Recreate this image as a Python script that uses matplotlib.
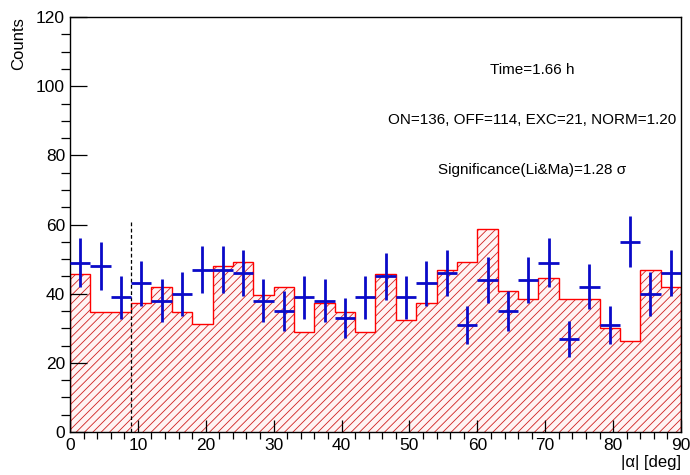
import numpy as np
import matplotlib
matplotlib.use("Agg")
import matplotlib.pyplot as plt
from matplotlib.ticker import MultipleLocator

plt.rcParams["font.family"] = ["Liberation Sans", "DejaVu Sans"]
plt.rcParams["hatch.linewidth"] = 0.6

# bin edges of |alpha| histogram (3 deg bins)
bin_edges = np.arange(0, 91, 3)

# normalized OFF histogram (red, hatched)
off_counts = [45.6, 34.8, 34.8, 37.2, 42.0, 34.8, 31.2, 48.0, 49.2, 39.6,
              42.0, 28.8, 37.2, 34.8, 28.8, 45.6, 32.4, 37.2, 46.8, 49.2,
              58.8, 40.8, 38.4, 44.4, 38.4, 38.4, 30.0, 26.4, 46.8, 42.0]

# ON counts (blue points)
on_counts = [49, 48, 39, 43, 38, 40, 47, 47, 46, 38,
             35, 39, 38, 33, 39, 45, 39, 43, 46, 31,
             44, 35, 44, 49, 27, 42, 31, 55, 40, 46]

alpha_cut = 9
cut_height = 61

info_lines = ["Time=1.66 h",
              "ON=136, OFF=114, EXC=21, NORM=1.20",
              "Significance(Li&Ma)=1.28 \u03c3"]

fig, ax = plt.subplots(figsize=(6.9, 4.75), dpi=100)
fig.subplots_adjust(left=0.1014, right=0.987, top=0.964, bottom=0.0905)

# OFF histogram: hatch + outline
ax.stairs(off_counts, bin_edges, fill=True, facecolor="#fff4f4",
          edgecolor="#d02020", hatch="////", linewidth=0)
ax.stairs(off_counts, bin_edges, color="red", linewidth=1.0)

# ON points with sqrt(N) errors
centers = 0.5 * (bin_edges[:-1] + bin_edges[1:])
on = np.array(on_counts)
ax.errorbar(centers, on, yerr=np.sqrt(on), xerr=1.5, fmt="none",
            ecolor="#0a0ac8", elinewidth=2, capsize=0, zorder=5)

# signal region cut
ax.plot([alpha_cut, alpha_cut], [0, cut_height], color="black",
        linestyle=(0, (3, 2)), linewidth=0.9)

ax.set_xlim(0, 90)
ax.set_ylim(0, 120)
ax.xaxis.set_major_locator(MultipleLocator(10))
ax.xaxis.set_minor_locator(MultipleLocator(2))
ax.yaxis.set_major_locator(MultipleLocator(20))
ax.yaxis.set_minor_locator(MultipleLocator(5))
ax.tick_params(axis="both", direction="in", labelsize=12.5, top=False, right=False)
ax.tick_params(axis="y", which="major", length=12, width=0.9)
ax.tick_params(axis="y", which="minor", length=6.5, width=0.9)
ax.tick_params(axis="x", which="major", length=9, width=0.9, pad=4)
ax.tick_params(axis="x", which="minor", length=5, width=0.9)
for sp in ax.spines.values():
    sp.set_linewidth(1.0)

ax.set_ylabel("Counts", fontsize=12)
ax.yaxis.set_label_coords(-0.072, 1.0)
ax.yaxis.label.set_horizontalalignment("right")
ax.set_xlabel("|\u03b1| [deg]", fontsize=12)
ax.xaxis.set_label_coords(1.0, -0.055)
ax.xaxis.label.set_horizontalalignment("right")

for i, txt in enumerate(info_lines):
    fig.text(532 / 690, 1 - (70 + 50 * i) / 475, txt, fontsize=11,
             ha="center", va="center")

fig.savefig("out.png", dpi=100)
